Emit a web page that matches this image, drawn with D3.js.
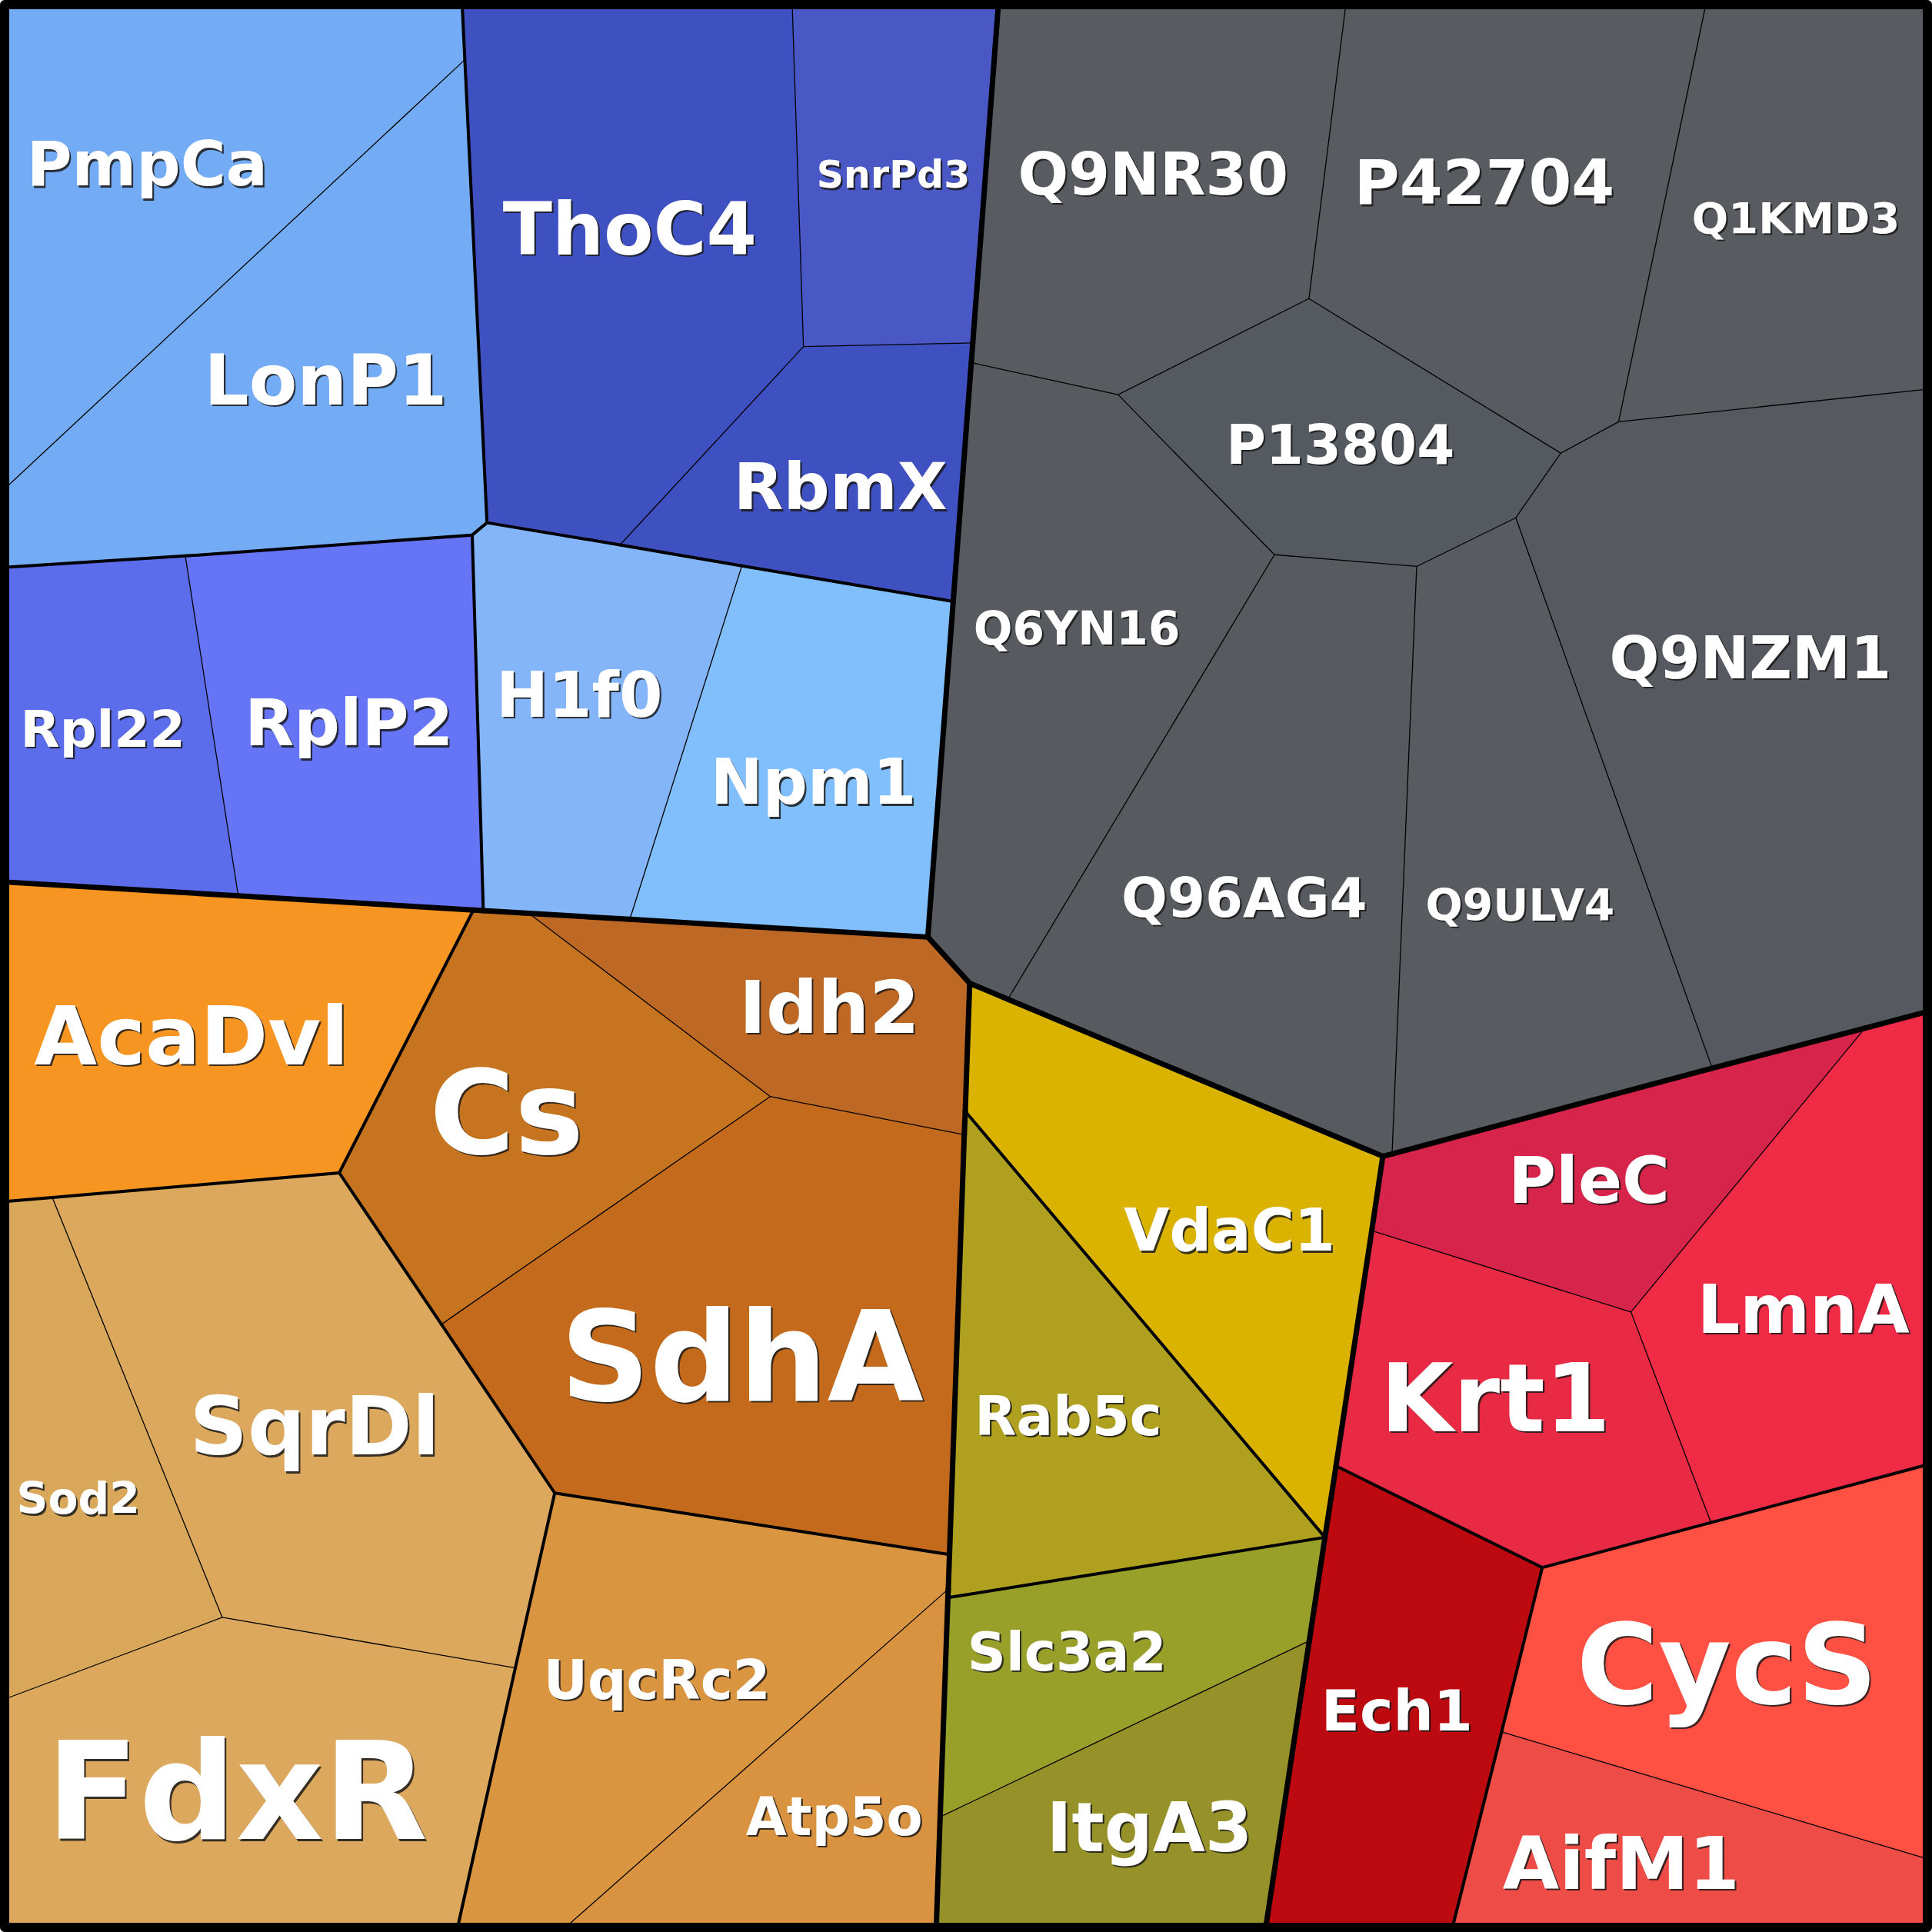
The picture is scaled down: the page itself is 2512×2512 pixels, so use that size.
<!DOCTYPE html>
<html>
<head>
<meta charset="utf-8">
<script src="https://cdn.jsdelivr.net/npm/d3@7"></script>
<style>
  html, body { margin: 0; padding: 0; background: #ffffff; }
  svg { display: block; }
</style>
</head>
<body>
<svg id="chart" width="2512" height="2512"></svg>
<script>
// ---------------- DATA ----------------
const proteins  = ["PmpCa","LonP1","ThoC4","SnrPd3","RbmX","Rpl22","RplP2","H1f0","Npm1",
                   "Q9NR30","P42704","Q1KMD3","P13804","Q6YN16","Q96AG4","Q9ULV4","Q9NZM1",
                   "AcaDvl","Cs","Idh2","SdhA","SqrDl","Sod2","FdxR","UqcRc2","Atp5o",
                   "VdaC1","Rab5c","Slc3a2","ItgA3",
                   "PleC","LmnA","Krt1","Ech1","CycS","AifM1"];
const subgroups = ["b1","b1","b2","b2","b2","b3","b3","b4","b4",
                   "g1","g1","g1","g1","g1","g1","g1","g1",
                   "o1","o2","o2","o2","o3","o3","o3","o4","o4",
                   "y1","y2","y3","y3",
                   "r1","r1","r1","r2","r3","r3"];
const groups    = ["blue","blue","blue","blue","blue","blue","blue","blue","blue",
                   "gray","gray","gray","gray","gray","gray","gray","gray",
                   "orange","orange","orange","orange","orange","orange","orange","orange","orange",
                   "yellow","yellow","yellow","yellow",
                   "red","red","red","red","red","red"];
// relative abundance (drives label size)
const abundance = [82,93,96,50,86,68,85,83,83,
                   79,82,57,72,61,72,58,78,
                   108,154,96,165,107,58,180,72,70,
                   78,72,71,90,
                   86,89,125,75,148,97];
const colors    = ["#73acf5","#73acf5","#3f51c1","#4a58c5","#3f51c1","#5b6deb","#6675f5","#84b5f9","#80bffc",
                   "#585b60","#585b60","#585b60","#555a61","#575b60","#575b60","#585b60","#565a60",
                   "#f69521","#c77420","#bd6825","#c46a1c","#dba85d","#d8a75a","#dba85e","#da9541","#d99340",
                   "#d9b300","#b0a020","#98a02a","#979129",
                   "#d7244a","#f02b46","#e92a45","#bd0a10","#ff5044","#ee4c46"];

// ---------------- LAYOUT (voronoi treemap geometry, layout units) ----------------
const V = {
  TL:[7,7], TR:[1561,7], BR:[1561,1561], BL:[7,1561],
  p1:[375,7], p2:[377,48], p3:[7,393], B:[395,424], C:[383,434], D:[7,460], p4:[150,451],
  s1:[643,7], s2:[652,281], s3:[789.5,278], s4:[503,442], s5:[602,459], E:[773.6,488], N:[810,7],
  F:[753,760.5], L:[7,716], r1:[193,727], o1:[384,738.5], r2:[392,739], o2:[429,741.2], n1:[511,746.1],
  g1:[1092,7], g2:[1062.5,242], g3:[907.5,320], g4:[788.3,294], g5:[1034.5,450], g6:[1150,459.5],
  g7:[1230.5,420], g8:[1267,367.5], g9:[1314,342], g10:[1384,7], g11:[1561,316],
  G:[787,798], H:[1122.5,938.5], I:[1561,822], g12:[818,811], g13:[1130,936.6], g14:[1390,867],
  a1:[7,975], a2:[275,952], a3:[42,972], c1:[625,890], c2:[782.6,921], c3:[358,1075],
  q1:[450,1212], q2:[180,1313], q3:[7,1378], q4:[418,1354], q5:[372,1561],
  u1:[770.6,1262], u2:[769.6,1290], u3:[463,1561], OB:[760,1561],
  y1:[783.4,902], J:[1075.5,1248], y3:[769.3,1297], y4:[1062.8,1332], y5:[763,1475], Y2:[1028,1561],
  k1:[1113.5,999], k2:[1324,1065], k3:[1514,834.5], k4:[1389,1236], K:[1084.5,1190],
  R1:[1252,1272.5], R2:[1561,1190], R3:[1180,1561], R4:[1219,1406], R5:[1561,1508]
};
const cellPts = {
  PmpCa:["TL","p1","p2","p3"],
  LonP1:["p2","B","C","p4","D","p3"],
  ThoC4:["p1","s1","s2","s4","B","p2"],
  SnrPd3:["s1","N","s3","s2"],
  RbmX:["s2","s3","g4","E","s5","s4"],
  Rpl22:["D","p4","r1","L"],
  RplP2:["p4","C","r2","o1","r1"],
  H1f0:["C","B","s4","s5","n1","o2","r2"],
  Npm1:["s5","E","F","n1"],
  Q9NR30:["N","g1","g2","g3","g4","s3"],
  P42704:["g1","g10","g9","g8","g2"],
  Q1KMD3:["g10","TR","g11","g9"],
  P13804:["g2","g8","g7","g6","g5","g3"],
  Q6YN16:["g4","g3","g5","g12","G","F","E"],
  Q96AG4:["g5","g6","g13","H","g12"],
  Q9ULV4:["g6","g7","g14","g13"],
  Q9NZM1:["g9","g11","I","k3","g14","g7","g8"],
  AcaDvl:["L","r1","o1","a2","a3","a1"],
  Cs:["o1","r2","o2","c1","c3","a2"],
  Idh2:["o2","n1","F","G","y1","c2","c1"],
  SdhA:["c1","c2","u1","q1","c3"],
  SqrDl:["a3","a2","c3","q1","q4","q2"],
  Sod2:["a1","a3","q2","q3"],
  FdxR:["q3","q2","q4","q5","BL"],
  UqcRc2:["q1","u1","u2","u3","q5","q4"],
  Atp5o:["u2","y3","y5","OB","u3"],
  VdaC1:["G","g12","H","k1","K","J","y1"],
  Rab5c:["y1","J","y3","u2","u1","c2"],
  Slc3a2:["y3","J","y4","y5"],
  ItgA3:["y5","y4","Y2","OB"],
  PleC:["H","g13","g14","k3","k2","k1"],
  LmnA:["k3","I","R2","k4","k2"],
  Krt1:["k1","k2","k4","R1","K"],
  Ech1:["K","R1","R4","R3","Y2","y4","J"],
  CycS:["R1","k4","R2","R5","R4"],
  AifM1:["R4","R5","BR","R3"]
};
const labelAt = {
  PmpCa:[119,132], LonP1:[264,307], ThoC4:[511,185], SnrPd3:[725,141], RbmX:[682,394],
  Rpl22:[83,591], RplP2:[283,586], H1f0:[470,563], Npm1:[660,634],
  Q9NR30:[936,140], P42704:[1205,147], Q1KMD3:[1458,176], P13804:[1088,360], Q6YN16:[874,509],
  Q96AG4:[1010,728], Q9ULV4:[1234,734], Q9NZM1:[1421,533],
  AcaDvl:[155,840], Cs:[411,902], Idh2:[673,817], SdhA:[602,1100], SqrDl:[255,1157], Sod2:[63,1216],
  FdxR:[192,1453], UqcRc2:[533,1363], Atp5o:[677,1474],
  VdaC1:[998,998], Rab5c:[867,1149], Slc3a2:[866,1340], ItgA3:[933,1483],
  PleC:[1290,957], LmnA:[1464,1062], Krt1:[1214,1134], Ech1:[1134,1388], CycS:[1402,1350], AifM1:[1316,1512]
};

// ---------------- DRAW ----------------
const svg = d3.select("#chart");
const x = d3.scaleLinear().domain([7, 1561]).range([12, 2500]);
const y = d3.scaleLinear().domain([7, 1561]).range([12, 2500]);
const fontScale = d3.scaleLinear().domain([0, 100]).range([0, 98]);
const lineWidth = d3.scaleOrdinal().domain([0, 1, 2]).range([7, 4, 1.3]);

const cells = proteins.map((p, i) => ({
  name: p, group: groups[i], sub: subgroups[i], color: colors[i], value: abundance[i],
  pts: cellPts[p].map(k => [x(V[k][0]), y(V[k][1])]), keys: cellPts[p]
}));

const line = d3.line();
svg.append("g").selectAll("path").data(cells).join("path")
  .attr("d", d => line(d.pts) + "Z")
  .attr("fill", d => d.color)
  .attr("stroke", d => d.color)
  .attr("stroke-width", 1);

// shared edges -> hierarchical border weights
const edgeMap = new Map();
cells.forEach((c, ci) => {
  c.keys.forEach((k, j) => {
    const k2 = c.keys[(j + 1) % c.keys.length];
    const key = [k, k2].sort().join("|");
    if (!edgeMap.has(key)) edgeMap.set(key, { a: k, b: k2, cells: [] });
    edgeMap.get(key).cells.push(ci);
  });
});
const edges = [];
edgeMap.forEach(e => {
  if (e.cells.length < 2) return;
  const c1 = cells[e.cells[0]], c2 = cells[e.cells[1]];
  const level = c1.group !== c2.group ? 0 : (c1.sub !== c2.sub ? 1 : 2);
  edges.push({ a: V[e.a], b: V[e.b], level });
});
edges.sort((p, q) => q.level - p.level);
svg.append("g").selectAll("line").data(edges).join("line")
  .attr("x1", d => x(d.a[0])).attr("y1", d => y(d.a[1]))
  .attr("x2", d => x(d.b[0])).attr("y2", d => y(d.b[1]))
  .attr("stroke", "#000")
  .attr("stroke-width", d => lineWidth(d.level))
  .attr("stroke-linecap", "round");

// labels
const lab = svg.append("g")
  .attr("font-family", "'DejaVu Sans', sans-serif")
  .attr("font-weight", "bold")
  .attr("text-anchor", "middle");
const fs = d => fontScale(d.value);
const lx = d => x(labelAt[d.name][0]);
const ly = d => y(labelAt[d.name][1]) + 0.3645 * fs(d);
lab.selectAll("text.sh").data(cells).join("text").attr("class", "sh")
  .attr("x", d => lx(d) + 2.2).attr("y", d => ly(d) + 2.2)
  .attr("font-size", fs).attr("fill", "#1a1a1a").attr("fill-opacity", 0.85)
  .text(d => d.name);
lab.selectAll("text.fg").data(cells).join("text").attr("class", "fg")
  .attr("x", lx).attr("y", ly)
  .attr("font-size", fs).attr("fill", "#ffffff")
  .text(d => d.name);

// outer frame
svg.append("rect").attr("x", 6).attr("y", 6).attr("width", 2500).attr("height", 2500)
  .attr("fill", "none").attr("stroke", "#000").attr("stroke-width", 12)
  .attr("stroke-linejoin", "round");
</script>
</body>
</html>
